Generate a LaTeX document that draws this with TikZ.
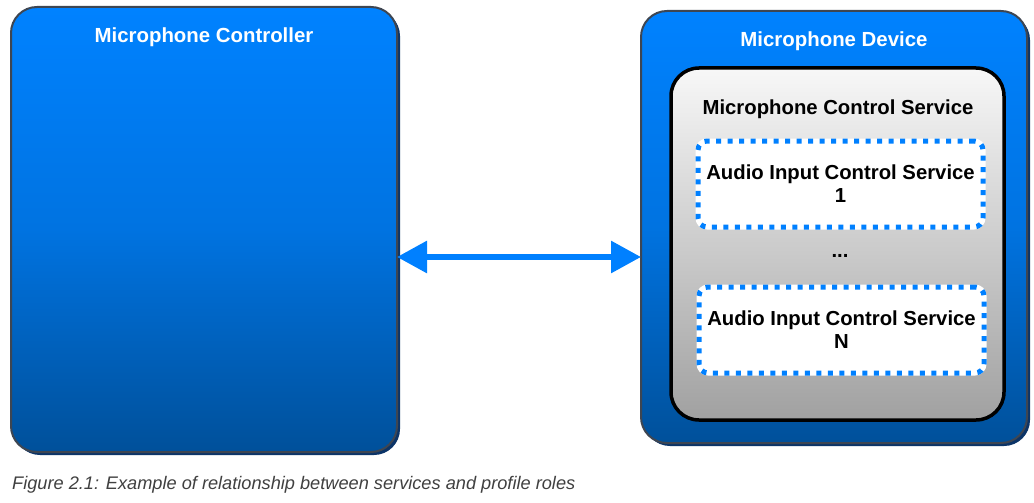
\documentclass[tikz,border=0pt]{standalone}
\usepackage{fontspec}
\setmainfont{Liberation Sans}
\usetikzlibrary{arrows.meta,shadows}
\definecolor{btop}{HTML}{0082FF}
\definecolor{bbot}{HTML}{00509A}
\definecolor{bborder}{HTML}{3E4652}
\definecolor{bshadow}{HTML}{0B3468}
\definecolor{ablue}{HTML}{0080FF}
\definecolor{captgray}{HTML}{404040}
\tikzset{
  outerbox/.style={draw=bborder, line width=2pt, rounded corners=26pt,
    top color=btop, bottom color=bbot, middle color=btop!70!bbot,
    drop shadow={shadow xshift=3pt, shadow yshift=-3pt, fill=bshadow, opacity=1}},
  innerbox/.style={draw=black, line width=3.5pt, rounded corners=28pt,
    top color=white!97!black, bottom color=black!37},
  aicsbox/.style={fill=white, draw=white, line width=5pt, rounded corners=9pt, align=center,
    font=\fontsize{20.3}{23}\selectfont\bfseries,
    postaction={draw=ablue, line width=5pt, dash pattern=on 5pt off 6.5pt}},
  wtitle/.style={text=white, font=\fontsize{20.4}{24}\selectfont\bfseries},
  btitle/.style={text=black, font=\fontsize{20.3}{24}\selectfont\bfseries},
  biarrow/.style={draw=ablue, line width=6pt, {Triangle[length=30pt,width=31pt]}-{Triangle[length=30pt,width=31pt]}, shorten <=-1pt, shorten >=-1pt}
}
\begin{document}
\begin{tikzpicture}[x=1pt,y=-1pt]
\useasboundingbox (0,0) rectangle (1034,503);
\node[outerbox, minimum width=386pt, minimum height=445pt] (ctrl) at (204,229.5) {};
\node[wtitle] (ctrltitle) at (204,37) {Microphone Controller};
\node[outerbox, minimum width=386pt, minimum height=432pt] (dev) at (834,227) {};
\node[wtitle] (devtitle) at (834,41) {Microphone Device};
\node[innerbox, minimum width=333pt, minimum height=352pt] (mcs) at (837.5,244) {};
\node[btitle] (mcstitle) at (838,109) {Microphone Control Service};
\node[aicsbox, minimum width=285pt, minimum height=86pt] (aics1) at (840.5,184) {Audio Input Control Service\\1};
\node[btitle] (dots) at (840,256) {...};
\node[aicsbox, minimum width=285pt, minimum height=86pt] (aicsN) at (841.5,330) {Audio Input Control Service\\N};
\coordinate (arrowy) at (0,257);
\draw[biarrow] (ctrl.east |- arrowy) -- (dev.west |- arrowy);
\node[anchor=west, text=captgray, font=\fontsize{18.2}{21}\selectfont\itshape, inner sep=0pt] (caption) at (12,485) {Figure 2.1: Example of relationship between services and profile roles};
\end{tikzpicture}
\end{document}
